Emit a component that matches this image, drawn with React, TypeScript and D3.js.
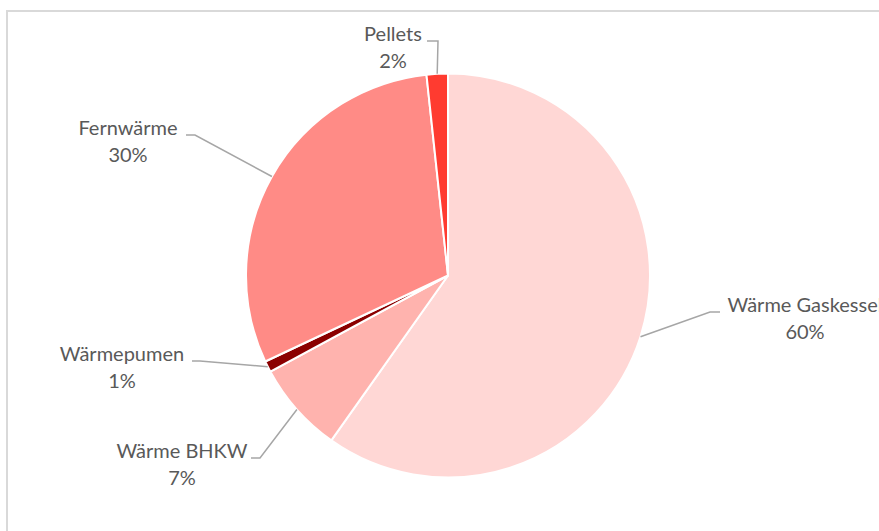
import React from "react";
import * as d3 from "d3";

const categories = ["Wärme Gaskessel", "Wärme BHKW", "Wärmepumen", "Fernwärme", "Pellets"];
const values = [59.8, 7.3, 0.9, 30.3, 1.7];
const colors = ["#FFD7D5", "#FFB3AE", "#8B0000", "#FF8B86", "#FF3B30"];

// label layout: text centre x, first baseline y, leader start x, elbow x
const labelLayout = [
  { tx: 805, ty: 312, lx: 720, ex: 710 },
  { tx: 182, ty: 458, lx: 251, ex: 260 },
  { tx: 122, ty: 361, lx: 192, ex: 200 },
  { tx: 128, ty: 135, lx: 186, ex: 195 },
  { tx: 393, ty: 41, lx: 427, ex: 438 },
];

const W = 879;
const H = 531;
const cx = 448;
const cy = 275.5;
const R = 202;

export default function App() {
  const total = d3.sum(values);
  const pie = d3
    .pie<number>()
    .sort(null)
    .value((d) => d)
    .startAngle(0)
    .endAngle(2 * Math.PI);
  const arcs = pie(values);
  const arcGen = d3.arc<d3.PieArcDatum<number>>().innerRadius(0).outerRadius(R);

  return (
    <svg
      width={W}
      height={H}
      style={{ position: "absolute", left: 0, top: 0, background: "#fff" }}
      fontFamily="Lato, 'Noto Sans', sans-serif"
    >
      <rect x={7} y={11} width={W + 20} height={H + 20} fill="#fff" stroke="#D9D9D9" strokeWidth={2} />
      <g transform={`translate(${cx},${cy})`}>
        {arcs.map((a, i) => (
          <path key={i} d={arcGen(a) || ""} fill={colors[i]} stroke="#fff" strokeWidth={2} strokeLinejoin="round" />
        ))}
      </g>
      {arcs.map((a, i) => {
        const mid = (a.startAngle + a.endAngle) / 2;
        const px = cx + R * Math.sin(mid);
        const py = cy - R * Math.cos(mid);
        const L = labelLayout[i];
        const pct = Math.round((values[i] / total) * 100);
        return (
          <g key={"l" + i}>
            <polyline
              points={`${L.lx},${L.ty} ${L.ex},${L.ty} ${px},${py}`}
              fill="none"
              stroke="#A6A6A6"
              strokeWidth={1.5}
            />
            <text x={L.tx} y={L.ty} textAnchor="middle" fontSize={20} fill="#595959">
              {categories[i]}
            </text>
            <text x={L.tx} y={L.ty + 27} textAnchor="middle" fontSize={20} fill="#595959">
              {pct}%
            </text>
          </g>
        );
      })}
    </svg>
  );
}
